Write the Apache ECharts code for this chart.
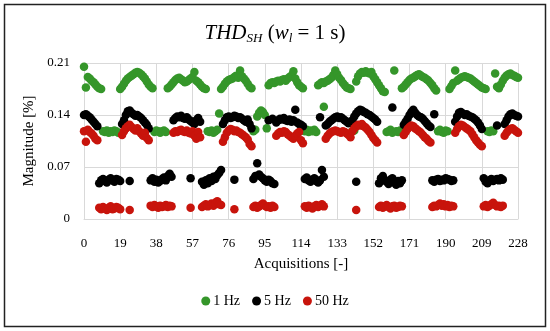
<!DOCTYPE html>
<html><head><meta charset="utf-8">
<script src="https://cdn.jsdelivr.net/npm/echarts@6/dist/echarts.min.js"></script>
<style>html,body{margin:0;padding:0;background:#fff}#c{width:550px;height:331px}</style>
</head><body><div id="c"></div>
<script>
// x-axis tick labels (acquisition index)
const xTicks = [0, 19, 38, 57, 76, 95, 114, 133, 152, 171, 190, 209, 228];
const yTicks = [0, 0.07, 0.14, 0.21];
const seriesNames = ['1 Hz', '5 Hz', '50 Hz'];

// 1 Hz values, acquisitions 0..228
const hz1 = [
 0.205,0.177,0.191,0.189,0.186,0.184,0.181,0.178,0.176,0.175,
 0.118,0.117,0.119,0.116,0.118,0.117,0.119,0.118,0.116,
 0.175,0.178,0.182,0.186,0.189,0.191,0.193,0.195,0.197,0.198,0.197,0.195,0.192,0.189,0.185,0.181,0.178,0.176,
 0.117,0.119,0.118,0.116,0.118,0.119,0.117,
 0.176,0.178,0.181,0.184,0.187,0.189,0.190,0.188,0.186,0.184,0.185,0.187,0.189,0.191,0.198,0.186,0.184,0.181,0.178,0.176,0.175,
 0.118,0.117,0.119,0.116,0.118,0.120,0.142,
 0.175,0.178,0.182,0.185,0.187,0.188,0.189,0.191,0.193,0.190,0.200,0.192,0.189,0.186,0.182,0.178,0.176,
 0.118,0.120,0.138,0.143,0.146,0.144,0.140,0.122,
 0.180,0.183,0.184,0.183,0.185,0.186,0.185,0.187,0.188,0.186,0.189,0.191,0.193,0.199,0.189,0.184,0.180,0.178,0.176,
 0.118,0.120,0.117,0.119,0.118,0.120,0.117,
 0.180,0.182,0.184,0.183,0.185,0.186,0.188,0.190,0.194,0.200,0.195,0.190,0.187,0.183,0.180,0.177,0.176,0.175,
 0.118,0.119,
 0.185,0.192,0.196,0.198,0.197,0.199,0.197,0.196,0.198,0.192,0.188,0.184,0.180,0.176,0.172,0.171,
 0.117,0.118,0.120,0.116,0.200,0.118,0.117,0.119,
 0.176,0.178,0.181,0.184,0.187,0.189,0.190,0.192,0.194,0.195,0.193,0.191,0.190,0.188,0.186,0.183,0.180,0.176,0.173,
 0.118,0.120,0.117,0.116,0.119,0.118,
 0.175,0.179,0.183,0.200,0.186,0.188,0.190,0.191,0.192,0.191,0.190,0.189,0.187,0.185,0.183,0.181,0.179,0.177,0.176,0.175,
 0.118,0.117,0.119,0.118,
 0.196,0.178,0.176,0.181,0.186,0.190,0.193,0.195,0.196,0.194,0.193,0.191,0.190
];
const hz1Extra = [[126, 0.151]];

// 5 Hz values, acquisitions 0..228
const hz5 = [
 0.140,0.141,0.139,0.137,0.134,0.131,0.128,0.125,
 0.048,0.052,0.054,0.051,0.049,0.053,0.055,0.052,0.050,0.054,0.053,0.051,
 0.128,0.133,0.140,0.145,0.146,0.143,0.141,0.139,0.140,0.138,0.136,0.133,0.130,0.127,0.122,
 0.052,0.055,0.050,0.053,0.049,0.051,0.054,0.056,0.052,0.058,0.061,0.057,
 0.133,0.136,0.138,0.137,0.139,0.136,0.135,0.137,0.134,0.132,0.130,0.128,0.133,0.136,0.131,
 0.050,0.046,0.052,0.048,0.055,0.051,0.057,0.054,0.059,0.062,0.066,
 0.128,0.133,0.137,0.138,0.136,0.137,0.139,0.138,0.136,0.137,0.135,0.133,0.131,0.134,0.128,0.122,
 0.054,0.058,0.075,0.060,0.057,0.055,0.052,0.050,0.053,0.051,0.048,0.047,
 0.130,0.133,0.135,0.134,0.136,0.133,0.132,0.134,0.131,0.133,0.147,0.130,0.128,0.127,0.125,
 0.054,0.056,0.052,0.050,0.053,0.055,0.051,0.049,0.052,0.066,0.057,
 0.126,0.128,0.131,0.133,0.135,0.137,0.138,0.136,0.137,0.135,0.133,0.131,0.129,0.130,0.133,0.138,0.142,0.145,0.147,0.146,0.144,0.143,0.141,0.140,0.138,0.136,0.134,0.131,
 0.048,0.055,0.058,0.052,0.050,0.047,0.053,0.055,0.049,0.046,0.051,0.048,0.052,
 0.127,0.131,0.135,0.140,0.144,0.147,0.143,0.140,0.138,0.137,0.135,0.132,0.129,0.126,0.124,
 0.052,0.050,0.053,0.054,0.051,0.053,0.052,0.055,0.054,0.053,0.051,0.052,
 0.131,0.138,0.143,0.144,0.142,0.140,0.141,0.139,0.138,0.137,0.135,0.133,0.130,0.126,0.121,
 0.055,0.050,0.048,0.052,0.054,0.051,0.053,0.054,0.052,0.055,0.053,
 0.128,0.133,0.138,0.141,0.142,0.140,0.139,0.138
];
const hz5Extra = [[24,0.051],[56,0.055],[79,0.053],[143,0.050],[162,0.150],[184,0.141],[124,0.137],[217,0.126],[97,0.133],[99,0.135]];

// 50 Hz values, acquisitions 0..228
const hz50 = [
 0.118,0.104,0.120,0.117,0.115,0.112,0.108,0.106,
 0.015,0.013,0.016,0.014,0.012,0.015,0.017,0.013,0.014,0.016,0.015,0.013,
 0.113,0.118,0.122,0.125,0.127,0.124,0.121,0.119,0.122,0.118,0.115,0.112,0.116,0.109,0.106,
 0.018,0.016,0.019,0.017,0.015,0.018,0.016,0.017,0.019,0.016,0.018,0.017,
 0.116,0.118,0.117,0.119,0.120,0.118,0.117,0.119,0.116,0.115,0.118,0.112,0.108,0.117,0.110,
 0.016,0.018,0.020,0.017,0.019,0.021,0.018,0.022,0.024,0.020,0.019,
 0.104,0.110,0.116,0.119,0.121,0.120,0.118,0.119,0.117,0.116,0.114,0.112,0.110,0.107,0.101,0.098,
 0.016,0.018,0.015,0.017,0.019,0.021,0.018,0.016,0.017,0.015,0.018,0.016,
 0.112,0.115,0.117,0.116,0.118,0.117,0.114,0.112,0.110,0.108,0.112,0.115,0.117,0.106,0.102,
 0.017,0.015,0.018,0.016,0.014,0.017,0.019,0.016,0.018,0.020,0.017,
 0.108,0.112,0.115,0.117,0.118,0.119,0.118,0.117,0.116,0.118,0.117,0.115,0.113,0.110,0.118,0.122,0.125,0.127,0.126,0.128,0.125,0.123,0.120,0.117,0.113,0.109,0.106,0.103,
 0.016,0.018,0.015,0.017,0.019,0.016,0.014,0.017,0.018,0.015,0.016,0.018,0.017,
 0.113,0.117,0.121,0.124,0.126,0.125,0.122,0.120,0.118,0.116,0.113,0.110,0.108,0.105,0.103,
 0.016,0.018,0.017,0.019,0.021,0.018,0.020,0.017,0.019,0.016,0.018,0.017,
 0.116,0.121,0.125,0.127,0.126,0.124,0.122,0.120,0.118,0.114,0.110,0.106,0.103,0.100,0.098,
 0.017,0.019,0.016,0.018,0.020,0.022,0.019,0.017,0.018,0.016,0.018,
 0.112,0.116,0.119,0.121,0.122,0.120,0.118,0.116
];
const hz50Extra = [[24,0.012],[56,0.015],[79,0.013],[143,0.012]];

const colors = ['#35962a', '#000000', '#c8140c'];
const serif = "'Liberation Serif', 'DejaVu Serif', serif";

function toPairs(arr, extra) {
  return arr.map((v, i) => [i, v]).concat(extra);
}
const dataSets = [toPairs(hz1, hz1Extra), toPairs(hz5, hz5Extra), toPairs(hz50, hz50Extra)];

const chart = echarts.init(document.getElementById('c'), null, {renderer: 'canvas'});
chart.setOption({
  animation: false,
  backgroundColor: '#fff',
  color: colors,
  graphic: [{
    type: 'rect', shape: {x: 4.5, y: 4.5, width: 541, height: 322},
    style: {fill: 'none', stroke: '#222', lineWidth: 1.5}, silent: true
  }],
  title: {
    text: '{it|THD}{sub|SH}{n| (}{it|w}{sub|l}{n| = 1 s)}',
    left: 'center', top: 17,
    textStyle: {
      fontWeight: 'normal',
      rich: {
        it: {fontFamily: serif, fontStyle: 'italic', fontWeight: 'normal', fontSize: 21, color: '#000'},
        sub: {fontFamily: serif, fontStyle: 'italic', fontWeight: 'normal', fontSize: 13, color: '#000', verticalAlign: 'bottom', padding: [10, 0, 0, 0]},
        n: {fontFamily: serif, fontWeight: 'normal', fontSize: 21, color: '#000'}
      }
    }
  },
  legend: {
    data: seriesNames, bottom: 18, left: 'center', icon: 'circle',
    itemWidth: 9, itemHeight: 9, itemGap: 12,
    textStyle: {fontFamily: serif, fontSize: 14, color: '#000', padding: [0, 0, 0, -2]}
  },
  grid: {left: 84, right: 32, top: 63, bottom: 112},
  xAxis: {
    type: 'value', min: 0, max: 228, interval: 19,
    name: 'Acquisitions [-]', nameLocation: 'middle', nameGap: 38,
    nameTextStyle: {fontFamily: serif, fontSize: 15, color: '#000'},
    axisLine: {show: true, lineStyle: {color: '#d9d9d9'}},
    axisTick: {show: false},
    axisLabel: {fontFamily: serif, fontSize: 13, color: '#000', margin: 18,
      formatter: v => xTicks.includes(v) ? String(v) : ''},
    splitLine: {show: true, lineStyle: {color: '#d9d9d9', width: 1}}
  },
  yAxis: {
    type: 'value', min: 0, max: 0.21, interval: 0.07,
    name: 'Magnitude [%]', nameLocation: 'middle', nameGap: 35,
    nameTextStyle: {fontFamily: serif, fontSize: 15, color: '#000'},
    axisLine: {show: true, lineStyle: {color: '#d9d9d9'}},
    axisTick: {show: false},
    axisLabel: {fontFamily: serif, fontSize: 13, color: '#000', margin: 14,
      formatter: v => { const t = yTicks.find(k => Math.abs(k - v) < 1e-6); return t === undefined ? '' : (t === 0 ? '0' : t.toFixed(2)); }},
    splitLine: {show: true, lineStyle: {color: '#d9d9d9', width: 1}}
  },
  series: seriesNames.map((n, i) => ({
    name: n, type: 'scatter', symbol: 'circle', symbolSize: 8.5,
    data: dataSets[i], itemStyle: {color: colors[i], opacity: 1}
  }))
});
</script></body></html>
